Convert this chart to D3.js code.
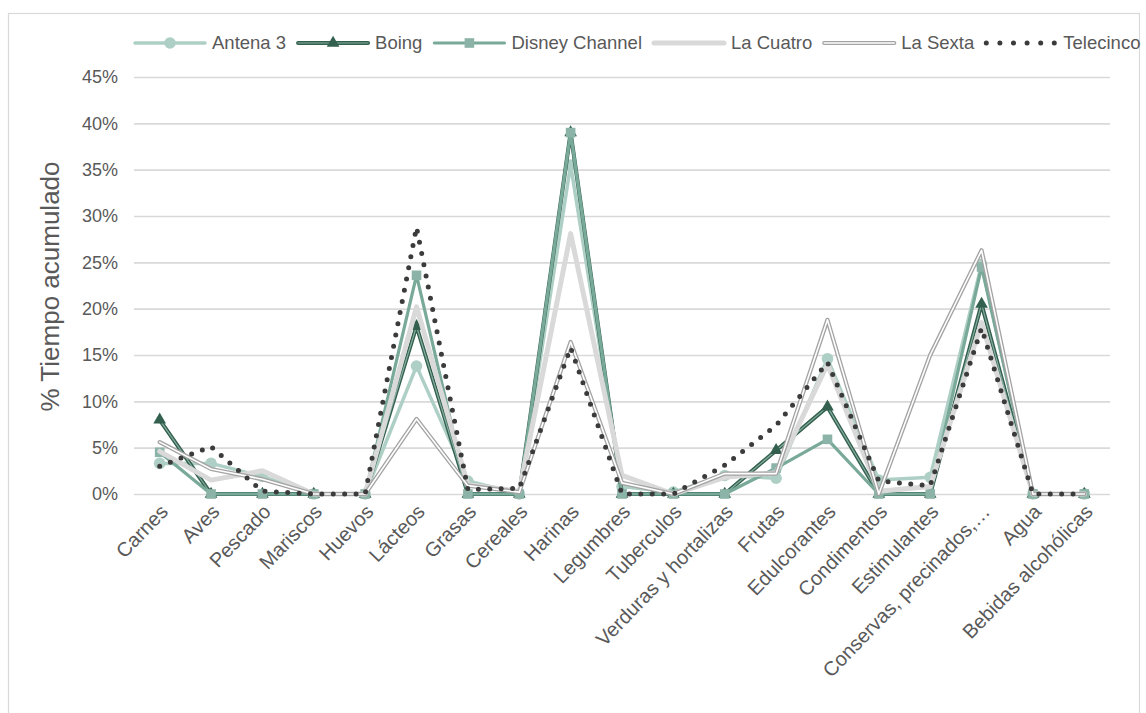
<!DOCTYPE html>
<html>
<head>
<meta charset="utf-8">
<script src="https://cdn.jsdelivr.net/npm/d3@7"></script>
<style>
  html, body { margin: 0; padding: 0; background: #fff; }
  svg { display: block; font-family: "Liberation Sans", Arial, sans-serif; }
</style>
</head>
<body>
<svg id="chart" width="1146" height="713"></svg>
<script>
// Food groups on the x axis
const categories = ["Carnes", "Aves", "Pescado", "Mariscos", "Huevos", "Lácteos", "Grasas",
  "Cereales", "Harinas", "Legumbres", "Tuberculos", "Verduras y hortalizas", "Frutas",
  "Edulcorantes", "Condimentos", "Estimulantes", "Conservas, precinados,…", "Agua",
  "Bebidas alcohólicas"];

// Accumulated advertising time per channel (%)
const antena3   = [3.3, 3.3, 1.9, 0, 0, 13.8, 1.4, 0, 35.5, 0.8, 0.2, 2.0, 1.7, 14.6, 1.5, 1.8, 24.8, 0, 0];
const boing     = [8.0, 0, 0, 0, 0, 18.1, 0, 0, 39.0, 0, 0, 0, 4.7, 9.4, 0, 0, 20.5, 0, 0];
const disney    = [4.5, 0, 0, 0, 0, 23.6, 0, 0, 39.0, 0, 0, 0, 2.8, 5.9, 0, 0, 24.5, 0, 0];
const laCuatro  = [4.6, 1.5, 2.5, 0, 0, 20.2, 1.0, 0.3, 28.1, 2.0, 0, 1.8, 2.3, 14.0, 0.3, 0.8, 18.5, 0, 0];
const laSexta   = [5.6, 2.7, 1.6, 0, 0, 8.1, 0.9, 0.2, 16.4, 1.2, 0, 2.2, 2.2, 18.8, 0, 15.0, 26.3, 0, 0];
const telecinco = [3.0, 5.1, 0.3, 0, 0, 28.8, 0.5, 0.6, 15.8, 0, 0, 3.1, 7.4, 14.2, 1.4, 0.9, 17.9, 0, 0];

const yTicks = [0, 5, 10, 15, 20, 25, 30, 35, 40, 45];
const yTitle = "% Tiempo acumulado";

const series = [
  { name: "Antena 3", values: antena3, style: "antena" },
  { name: "Boing", values: boing, style: "boing" },
  { name: "Disney Channel", values: disney, style: "disney" },
  { name: "La Cuatro", values: laCuatro, style: "cuatro" },
  { name: "La Sexta", values: laSexta, style: "sexta" },
  { name: "Telecinco", values: telecinco, style: "tele" }
];

const svg = d3.select("#chart");
const textColor = "#595959";

// outer chart frame
svg.append("rect")
  .attr("x", 8.5).attr("y", 13.5).attr("width", 1131).attr("height", 720)
  .attr("fill", "#fff").attr("stroke", "#d9d9d9").attr("stroke-width", 1.2);

const plot = { left: 134, right: 1110, top: 77, bottom: 494 };

const x = d3.scalePoint().domain(categories).range([plot.left, plot.right]).padding(0.5);
const y = d3.scaleLinear().domain([0, 45]).range([plot.bottom, plot.top]);

// gridlines + tick labels
const yAxis = d3.axisLeft(y).tickValues(yTicks)
  .tickSize(-(plot.right - plot.left)).tickPadding(16)
  .tickFormat(d => d + "%");
const gy = svg.append("g").attr("transform", `translate(${plot.left},0)`).call(yAxis);
gy.select(".domain").remove();
gy.selectAll(".tick line").attr("stroke", "#d9d9d9").attr("stroke-width", 1.6);
gy.selectAll(".tick text").attr("fill", textColor).attr("font-size", 18)
  .attr("font-family", "Liberation Sans, Arial, sans-serif");

// y axis title
svg.append("text")
  .attr("transform", `translate(59,${(plot.top + plot.bottom) / 2 + 1}) rotate(-90)`)
  .attr("text-anchor", "middle")
  .attr("fill", textColor).attr("font-size", 26)
  .text(yTitle);

// category labels, rotated
const xAxis = d3.axisBottom(x).tickSize(0).tickPadding(0);
const gx = svg.append("g").attr("transform", `translate(0,${plot.bottom})`).call(xAxis);
gx.select(".domain").remove();
gx.selectAll(".tick text")
  .attr("fill", textColor).attr("font-size", 20)
  .attr("font-family", "Liberation Sans, Arial, sans-serif")
  .attr("text-anchor", "end")
  .attr("dy", "0.35em")
  .attr("transform", "translate(4,14) rotate(-46)");

const line = d3.line().x((d, i) => x(categories[i])).y(d => y(d));

const colors = {
  antena: "#aecfc5",
  boingOuter: "#33604f",
  boingInner: "#86ad9f",
  disney: "#79a999",
  disneyMark: "#8cb3a7",
  cuatro: "#d9d9d9",
  sexta: "#a3a3a3",
  tele: "#3b3b3b"
};

function drawPath(g, values, style) {
  const d = line(values);
  const add = (stroke, w, extra) => {
    const p = g.append("path").attr("d", d).attr("fill", "none")
      .attr("stroke", stroke).attr("stroke-width", w)
      .attr("stroke-linejoin", "round").attr("stroke-linecap", "round");
    if (extra) extra(p);
    return p;
  };
  if (style === "antena") add(colors.antena, 3.5);
  if (style === "boing") { add(colors.boingOuter, 4); add(colors.boingInner, 1.2); }
  if (style === "disney") add(colors.disney, 3.2);
  if (style === "cuatro") add(colors.cuatro, 5);
  if (style === "sexta") { add(colors.sexta, 4.2); add("#ffffff", 1.6); }
  if (style === "tele") add(colors.tele, 5, p => p.attr("stroke-dasharray", "0 11.4"));
}

function drawMarker(g, cx, cy, style) {
  if (style === "antena") {
    g.append("circle").attr("cx", cx).attr("cy", cy).attr("r", 5.8).attr("fill", colors.antena);
  } else if (style === "boing") {
    g.append("path").attr("transform", `translate(${cx},${cy})`)
      .attr("d", d3.symbol().type(d3.symbolTriangle).size(70)())
      .attr("fill", colors.boingOuter);
  } else if (style === "disney") {
    g.append("rect").attr("x", cx - 4.8).attr("y", cy - 4.8).attr("width", 9.6).attr("height", 9.6)
      .attr("fill", colors.disneyMark);
  }
}

// series lines and markers, drawn in series order
const gSeries = svg.append("g");
series.forEach(s => {
  const g = gSeries.append("g").attr("class", "series");
  drawPath(g, s.values, s.style);
  s.values.forEach((v, i) => drawMarker(g, x(categories[i]), y(v), s.style));
});

// legend
const legend = svg.append("g").attr("transform", "translate(0,43)");
let lx = 135;
series.forEach(s => {
  const g = legend.append("g");
  const lineLen = 70;
  const seg = `M${lx},0L${lx + lineLen},0`;
  const addSeg = (stroke, w, dash) => {
    const p = g.append("path").attr("d", seg).attr("fill", "none")
      .attr("stroke", stroke).attr("stroke-width", w).attr("stroke-linecap", "round");
    if (dash) p.attr("stroke-dasharray", dash);
  };
  if (s.style === "antena") addSeg(colors.antena, 3.5);
  if (s.style === "boing") { addSeg(colors.boingOuter, 4); addSeg(colors.boingInner, 1.2); }
  if (s.style === "disney") addSeg(colors.disney, 3.2);
  if (s.style === "cuatro") addSeg(colors.cuatro, 5);
  if (s.style === "sexta") { addSeg(colors.sexta, 4.2); addSeg("#ffffff", 1.6); }
  if (s.style === "tele") addSeg(colors.tele, 5, "0 13.6");
  drawMarker(g, lx + lineLen / 2, 0, s.style);
  const t = g.append("text").attr("x", lx + lineLen + 7).attr("y", 0).attr("dy", "0.35em")
    .attr("fill", textColor).attr("font-size", 18.5).text(s.name);
  lx += lineLen + 7 + t.node().getComputedTextLength() + 12;
});
</script>
</body>
</html>
